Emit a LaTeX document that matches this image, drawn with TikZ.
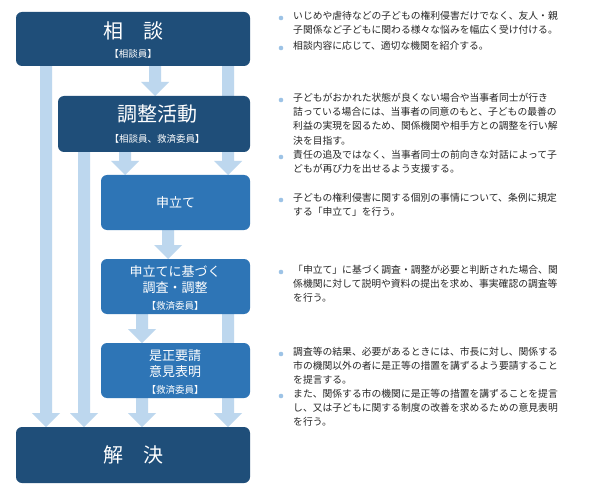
\documentclass[tikz,border=0pt]{standalone}
\usepackage{fontspec}
\setmainfont{Noto Sans CJK JP}
\definecolor{navy}{HTML}{1F4E79}
\definecolor{mid}{HTML}{2E75B6}
\definecolor{lite}{HTML}{BDD7EE}
\definecolor{dot}{HTML}{9DC3E6}
\newcommand{\varr}[3]{\fill[lite] (#1-6,#2) -- (#1+6,#2) -- (#1+6,#3-14) -- (#1+14,#3-14) -- (#1,#3) -- (#1-14,#3-14) -- (#1-6,#3-14) -- cycle;}
\begin{document}
\begin{tikzpicture}[x=1pt,y=-1pt,
  boxd/.style={rounded corners=6pt,fill=navy,text=white,align=center,inner sep=0},
  boxm/.style={rounded corners=6pt,fill=mid,text=white,align=center,inner sep=0},
  btxt/.style={anchor=north west,align=left,font=\fontsize{9.8}{14.2}\selectfont,inner sep=0,text=black!85}]
\useasboundingbox (0,0) rectangle (600,500);
\fill[white] (0,0) rectangle (600,500);
% arrows
\varr{46}{62}{427}
\varr{228}{62}{175}
\varr{155}{62}{96}
\varr{84}{148}{427}
\varr{125}{148}{175}
\varr{168}{226}{259}
\varr{142}{310}{343}
\varr{228}{310}{427}
\varr{142}{394}{427}
% boxes
\node[boxd,minimum width=234,minimum height=54] (soudan) at (133,39) {};
\node[text=white,font=\fontsize{20}{20}\selectfont] (t1) at (133,31) {相　談};
\node[text=white,font=\fontsize{9.5}{10}\selectfont] (s1) at (133,54) {【相談員】};
\node[boxd,minimum width=192,minimum height=56] (chosei) at (154,124) {};
\node[text=white,font=\fontsize{20}{20}\selectfont] (t2) at (157,114) {調整活動};
\node[text=white,font=\fontsize{9.5}{10}\selectfont] (s2) at (157,139) {【相談員、救済委員】};
\node[boxm,minimum width=149,minimum height=55,font=\fontsize{13}{14}\selectfont] (moushi) at (175.5,202.5) {申立て};
\node[boxm,minimum width=149,minimum height=55] (chosa) at (175.5,286.5) {};
\node[text=white,font=\fontsize{13}{16}\selectfont,align=center] (t4) at (175,280) {申立てに基づく\\調査・調整};
\node[text=white,font=\fontsize{9.5}{10}\selectfont] (s4) at (175,306) {【救済委員】};
\node[boxm,minimum width=149,minimum height=55] (zesei) at (175.5,370.5) {};
\node[text=white,font=\fontsize{13}{16}\selectfont,align=center] (t5) at (175,364) {是正要請\\意見表明};
\node[text=white,font=\fontsize{9.5}{10}\selectfont] (s5) at (175,390) {【救済委員】};
\node[boxd,minimum width=234,minimum height=56,font=\fontsize{20}{20}\selectfont] (kaiketsu) at (133,455) {解　決};
% bullets
\foreach \y in {18,48,100,157,200,272,354,396} \fill[dot] (281,\y) circle (2.3);
\node[btxt] (b1) at (293,11) {いじめや虐待などの子どもの権利侵害だけでなく、友人・親\\子関係など子どもに関わる様々な悩みを幅広く受け付ける。};
\node[btxt] (b2) at (293,41) {相談内容に応じて、適切な機関を紹介する。};
\node[btxt] (b3) at (293,93) {子どもがおかれた状態が良くない場合や当事者同士が行き\\詰っている場合には、当事者の同意のもと、子どもの最善の\\利益の実現を図るため、関係機関や相手方との調整を行い解\\決を目指す。};
\node[btxt] (b4) at (293,150) {責任の追及ではなく、当事者同士の前向きな対話によって子\\どもが再び力を出せるよう支援する。};
\node[btxt] (b5) at (293,193) {子どもの権利侵害に関する個別の事情について、条例に規定\\する「申立て」を行う。};
\node[btxt] (b6) at (293,265) {「申立て」に基づく調査・調整が必要と判断された場合、関\\係機関に対して説明や資料の提出を求め、事実確認の調査等\\を行う。};
\node[btxt] (b7) at (293,347) {調査等の結果、必要があるときには、市長に対し、関係する\\市の機関以外の者に是正等の措置を講ずるよう要請すること\\を提言する。};
\node[btxt] (b8) at (293,389) {また、関係する市の機関に是正等の措置を講ずることを提言\\し、又は子どもに関する制度の改善を求めるための意見表明\\を行う。};
\end{tikzpicture}
\end{document}
